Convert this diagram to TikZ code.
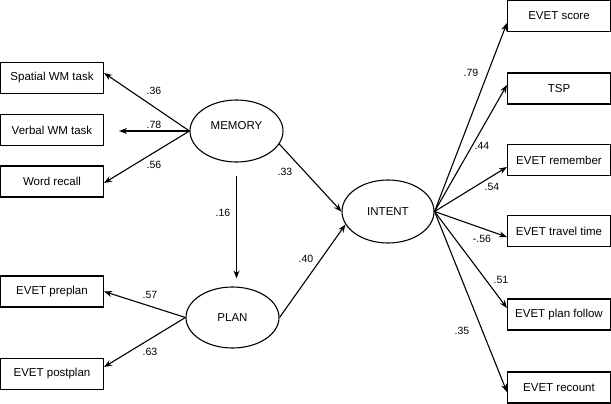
\documentclass[tikz,border=0pt]{standalone}
\usepackage{fontspec}
\setmainfont{Liberation Sans}
\usetikzlibrary{arrows.meta,shapes.geometric}
\begin{document}
\begin{tikzpicture}[x=1pt,y=1pt,
  >={Stealth[length=8pt,width=6pt]},
  line width=1.1pt,
  obs/.style={draw, line width=1.1pt, minimum width=103pt, minimum height=31pt, inner sep=0pt, font=\fontsize{11.5}{13}\selectfont},
  lat/.style={draw, ellipse, line width=1.1pt, minimum width=93pt, minimum height=62pt, inner sep=0pt, font=\fontsize{11.5}{13}\selectfont},
  coef/.style={inner sep=0pt, font=\fontsize{10.5}{12}\selectfont}]
\useasboundingbox (0,0) rectangle (611,-404);
% observed (left)
\node[obs] (spatial) at (52,-78) {Spatial WM task};
\node[obs] (verbal) at (52,-130) {Verbal WM task};
\node[obs] (word) at (52,-181.5) {Word recall};
\node[obs] (preplan) at (52,-291.5) {EVET preplan};
\node[obs] (postplan) at (52,-374) {EVET postplan};
% observed (right)
\node[obs] (score) at (559,-16) {EVET score};
\node[obs] (tsp) at (559,-88.5) {TSP};
\node[obs] (remember) at (559,-160) {EVET remember};
\node[obs] (travel) at (559,-231) {EVET travel time};
\node[obs] (follow) at (559,-314.5) {EVET plan follow};
\node[obs] (recount) at (559,-387.5) {EVET recount};
% latent
\node[lat] (memory) at (236.5,-131) {\raisebox{5pt}[\height][\depth]{MEMORY}};
\node[lat, minimum height=61pt] (plan) at (232.5,-317.5) {PLAN};
\node[lat, minimum width=92pt, minimum height=63pt] (intent) at (388,-211.5) {INTENT};
% connectors
\draw[->] (memory.west) -- ([yshift=5pt]spatial.east);
\draw[->, shorten >=15pt] (memory.west) -- (verbal.east |- memory.west);
\draw[->] (memory.west) -- ([yshift=-1.5pt]word.east);
\draw[->] (plan.west) -- (preplan.east);
\draw[->] (plan.west) -- ([yshift=7pt]postplan.east);
\draw[->, shorten <=13pt, shorten >=8pt] (memory.south) -- (memory.south |- plan.north);
\draw[->] (memory.-17) -- (intent.west);
\draw[->] (plan.east) -- (intent.197);
\draw[->] (intent.east) -- ([yshift=-7pt]score.west);
\draw[->] (intent.east) -- ([yshift=3.5pt]tsp.west);
\draw[->] (intent.east) -- ([yshift=-7pt]remember.west);
\draw[->] (intent.east) -- ([yshift=-6pt]travel.west);
\draw[->] (intent.east) -- ([yshift=6.5pt]follow.west);
\draw[->] (intent.east) -- ([yshift=-4.5pt]recount.west);
% coefficients
\node[coef] (c36) at (154,-91) {.36};
\node[coef] (c78) at (154,-125) {.78};
\node[coef] (c56) at (154,-165) {.56};
\node[coef] (c33) at (285,-172) {.33};
\node[coef] (c16) at (223,-213) {.16};
\node[coef] (c57) at (150,-295) {.57};
\node[coef] (c63) at (150,-352) {.63};
\node[coef] (c40) at (306,-259) {.40};
\node[coef] (c79) at (471,-73) {.79};
\node[coef] (c44) at (482,-146) {.44};
\node[coef] (c54) at (492,-187) {.54};
\node[coef] (cm56) at (482,-239) {-.56};
\node[coef] (c51) at (501,-280) {.51};
\node[coef] (c35) at (462,-331) {.35};
\end{tikzpicture}
\end{document}
